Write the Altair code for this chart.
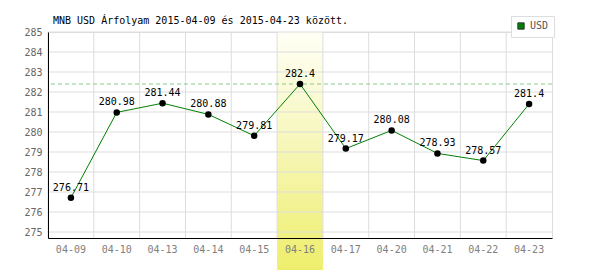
import altair as alt
import pandas as pd

days = ["04-09", "04-10", "04-13", "04-14", "04-15", "04-16",
        "04-17", "04-20", "04-21", "04-22", "04-23"]
rates = [276.71, 280.98, 281.44, 280.88, 279.81, 282.4,
         279.17, 280.08, 278.93, 278.57, 281.4]
labels = ["276.71", "280.98", "281.44", "280.88", "279.81", "282.4",
          "279.17", "280.08", "278.93", "278.57", "281.4"]
series_name = "USD"
highlight_day = "04-16"
y_ticks = [275, 276, 277, 278, 279, 280, 281, 282, 283, 284, 285]
y_domain = [274.7, 285]
title_text = "MNB USD Árfolyam 2015-04-09 és 2015-04-23 között."

df = pd.DataFrame({"day": days, "rate": rates, "label": labels,
                   "series": [series_name] * len(days)})
hl = pd.DataFrame({"day": [highlight_day]})
ticks_df = pd.DataFrame({"rate": y_ticks})
title_df = pd.DataFrame({"title": [title_text]})

mono = "DejaVu Sans Mono"
band_scale = alt.Scale(type="band", paddingInner=0, paddingOuter=0)
y_scale = alt.Scale(domain=y_domain, nice=False, zero=False)

x_axis = alt.Axis(title=None, labelAngle=0, labelAlign="center", ticks=False,
                  grid=False, domainColor="#000000", labelColor="#808080",
                  labelFont=mono, labelFontSize=10, labelPadding=6, zindex=2)
y_axis = alt.Axis(title=None, values=y_ticks, ticks=False, grid=False,
                  domainColor="#000000", labelColor="#666666",
                  labelFont=mono, labelFontSize=10, labelPadding=6,
                  labelOverlap=False, format="d", zindex=2)


def X(**kw):
    return alt.X("day:N", sort=days, scale=band_scale, axis=x_axis, **kw)


def Y(field="rate:Q"):
    return alt.Y(field, scale=y_scale, axis=y_axis)


base = alt.Chart(df).mark_point(opacity=0).encode(x=X(), y=Y())

band = alt.Chart(hl).mark_rect(
    fill=alt.LinearGradient(
        gradient="linear",
        stops=[alt.GradientStop(color="#fffff6", offset=0),
               alt.GradientStop(color="#f8f8c4", offset=0.4),
               alt.GradientStop(color="#eeee6c", offset=1)],
        x1=0, x2=0, y1=0, y2=1),
    clip=False
).encode(x=X(), y=alt.value(0), y2=alt.value(238))

hgrid = alt.Chart(ticks_df).mark_rule(color="#dddddd", strokeWidth=1).encode(
    y=Y()
)

vgrid = alt.Chart(df).mark_rule(color="#dddddd", strokeWidth=1).encode(
    x=X(bandPosition=0)
)

ref = alt.Chart(df).mark_rule(color="#88cc88", strokeDash=[4, 3], strokeWidth=1).encode(
    y=alt.Y("max(rate):Q", scale=y_scale, axis=y_axis)
)

line = alt.Chart(df).mark_line(color="#008000", strokeWidth=1).encode(
    x=X(), y=Y()
)

legend_layer = alt.Chart(df).mark_square(size=0, filled=True).encode(
    x=X(), y=Y(),
    color=alt.Color("series:N", scale=alt.Scale(range=["#008000"]),
                    legend=alt.Legend(title=None, orient="none", legendX=463,
                                      legendY=-16, symbolType="square",
                                      symbolSize=40, symbolStrokeColor="#333333",
                                      symbolStrokeWidth=1, symbolOpacity=1,
                                      strokeColor="#dddddd", fillColor="#ffffff",
                                      padding=5, labelOffset=4,
                                      labelFont=mono, labelFontSize=10,
                                      labelColor="#555555"))
)

points = alt.Chart(df).mark_circle(color="#000000", size=42, opacity=1).encode(
    x=X(), y=Y()
)

text = alt.Chart(df).mark_text(font=mono, fontSize=10, color="#000000",
                               baseline="alphabetic", dy=-7).encode(
    x=X(), y=Y(), text="label:N"
)

title = alt.Chart(title_df).mark_text(font=mono, fontSize=10, color="#000000",
                                      align="left", baseline="alphabetic",
                                      clip=False).encode(
    x=alt.value(5), y=alt.value(-8), text="title:N"
)

chart = alt.layer(base, band, hgrid, vgrid, ref, line, points, text,
                  legend_layer, title).properties(
    width=504, height=206,
    autosize=alt.AutoSizeParams(type="none"),
    padding={"left": 48, "top": 32, "right": 48, "bottom": 32},
).configure_view(stroke="#dddddd").configure(background="#ffffff")

chart.save("out.html", embed_options={"renderer": "svg", "actions": False})
